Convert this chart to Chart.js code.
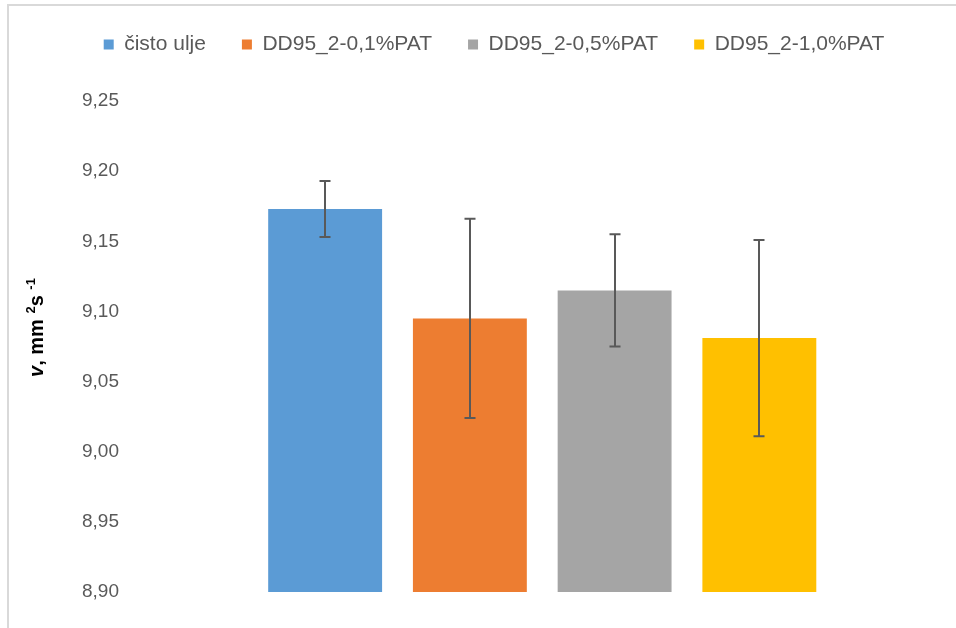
<!DOCTYPE html>
<html>
<head>
<meta charset="utf-8">
<script src="https://cdn.jsdelivr.net/npm/chart.js@4/dist/chart.umd.min.js"></script>
<style>
  html, body { margin: 0; padding: 0; background: #fff; }
  #wrap { position: relative; width: 956px; height: 628px; }
  #frame {
    position: absolute; left: 7px; top: 4px; right: 0; bottom: 0;
    border-top: 2px solid #d9d9d9; border-left: 2px solid #d9d9d9;
    pointer-events: none;
  }
</style>
</head>
<body>
<div id="wrap">
  <canvas id="viscosityChart"></canvas>
  <div id="frame"></div>
</div>
<script>
// Data
const seriesNames = ["čisto ulje", "DD95_2-0,1%PAT", "DD95_2-0,5%PAT", "DD95_2-1,0%PAT"];
const seriesValues = [9.173, 9.095, 9.115, 9.081];
const seriesErrors = [0.020, 0.071, 0.040, 0.070];
const seriesColors = ["#5B9BD5", "#ED7D31", "#A5A5A5", "#FFC000"];
const yTicks = [8.90, 8.95, 9.00, 9.05, 9.10, 9.15, 9.20, 9.25];

// axis title pieces: italic v, superscripts
const yTitleParts = [
  { text: "v", font: "italic bold 20px 'Liberation Sans'", rise: 0 },
  { text: ", mm ", font: "bold 20px 'Liberation Sans'", rise: 0 },
  { text: "2", font: "bold 13px 'Liberation Sans'", rise: 6 },
  { text: "s ", font: "bold 20px 'Liberation Sans'", rise: 0 },
  { text: "-1", font: "bold 13px 'Liberation Sans'", rise: 6 }
];

// Error bars drawn on top of the bars
const errorBars = {
  id: "errorBars",
  afterDatasetsDraw(chart) {
    const ctx = chart.ctx;
    const yScale = chart.scales.y;
    ctx.save();
    ctx.strokeStyle = "#595959";
    ctx.lineWidth = 2;
    chart.data.datasets.forEach((ds, i) => {
      const meta = chart.getDatasetMeta(i);
      if (meta.hidden) return;
      const bar = meta.data[0];
      const x = Math.round(bar.x);
      const top = yScale.getPixelForValue(seriesValues[i] + seriesErrors[i]);
      const bottom = yScale.getPixelForValue(seriesValues[i] - seriesErrors[i]);
      ctx.beginPath();
      ctx.moveTo(x, top);
      ctx.lineTo(x, bottom);
      ctx.moveTo(x - 5.5, top);
      ctx.lineTo(x + 5.5, top);
      ctx.moveTo(x - 5.5, bottom);
      ctx.lineTo(x + 5.5, bottom);
      ctx.stroke();
    });
    ctx.restore();
  }
};

// rotated y title with mixed fonts
const yTitle = {
  id: "yTitle",
  afterDraw(chart) {
    const ctx = chart.ctx;
    const area = chart.chartArea;
    ctx.save();
    let total = 0;
    yTitleParts.forEach(p => { ctx.font = p.font; p.w = ctx.measureText(p.text).width; total += p.w; });
    ctx.translate(37, (area.top + area.bottom) / 2 - 19);
    ctx.rotate(-Math.PI / 2);
    ctx.fillStyle = "#000";
    ctx.textBaseline = "middle";
    let x = -total / 2;
    yTitleParts.forEach(p => {
      ctx.font = p.font;
      ctx.fillText(p.text, x, -p.rise);
      x += p.w;
    });
    ctx.restore();
  }
};

// extra room under the legend
const legendGap = {
  id: "legendGap",
  beforeInit(chart) {
    const fit = chart.legend.fit;
    chart.legend.fit = function () {
      fit.bind(chart.legend)();
      this.height += 36;
    };
  }
};

const ctx = document.getElementById("viscosityChart").getContext("2d");

new Chart(ctx, {
  type: "bar",
  data: {
    labels: [""],
    datasets: seriesNames.map((name, i) => ({
      label: name,
      data: [seriesValues[i]],
      backgroundColor: seriesColors[i],
      borderWidth: 0
    }))
  },
  options: {
    responsive: true,
    maintainAspectRatio: false,
    animation: false,
    layout: { padding: { top: -2, left: 34, right: 2, bottom: 36 } },
    datasets: {
      bar: { categoryPercentage: 0.703, barPercentage: 0.787, base: 8.9 }
    },
    plugins: {
      legend: {
        position: "top",
        labels: {
          boxWidth: 10,
          boxHeight: 10,
          padding: 36,
          color: "#595959",
          font: { family: "Liberation Sans", size: 21 }
        }
      },
      tooltip: { enabled: false }
    },
    scales: {
      x: { display: false },
      y: {
        min: 8.9,
        max: 9.25,
        afterBuildTicks: (axis) => { axis.ticks = yTicks.map(v => ({ value: v })); },
        afterFit: (axis) => { axis.width += 44.5; },
        grid: { display: false },
        border: { display: false },
        ticks: {
          padding: 3.5,
          color: "#595959",
          font: { family: "Liberation Sans", size: 19 },
          callback: (v) => Number(v).toFixed(2).replace(".", ",")
        }
      }
    }
  },
  plugins: [errorBars, yTitle, legendGap]
});
</script>
</body>
</html>
